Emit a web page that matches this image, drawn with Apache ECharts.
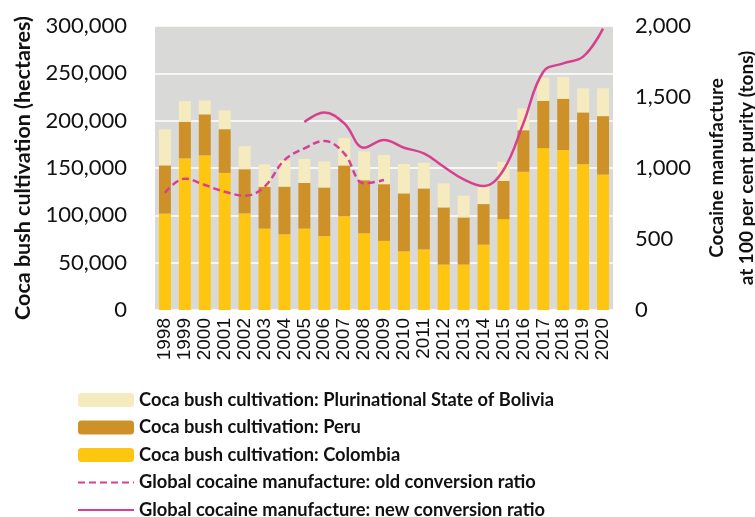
<!DOCTYPE html>
<html>
<head>
<meta charset="utf-8">
<script src="https://cdn.jsdelivr.net/npm/echarts@6/dist/echarts.min.js"></script>
<style>
  html, body { margin: 0; padding: 0; background: #fff; }
  #chart { width: 755px; height: 517px; }
</style>
</head>
<body>
<div id="chart"></div>
<script>
  // 年份
  var years = ['1998','1999','2000','2001','2002','2003','2004','2005','2006','2007','2008','2009',
               '2010','2011','2012','2013','2014','2015','2016','2017','2018','2019','2020'];

  // 种植面积 (hectares)
  var colombia = [101800, 160100, 163300, 144800, 102000, 86000, 80000, 86000, 78000, 99000, 81000, 73000,
                  62000, 64000, 48000, 48000, 69000, 96000, 146000, 171000, 169000, 154000, 143000];
  var peru = [51000, 38700, 43400, 46200, 46700, 44200, 50300, 48200, 51400, 53700, 56100, 59900,
              61200, 64400, 60400, 49800, 42900, 40300, 43900, 49900, 54100, 54700, 61800];
  var bolivia = [38000, 21800, 14600, 19900, 24400, 23600, 27700, 25400, 27500, 28900, 30500, 30900,
                 31000, 27200, 25300, 23000, 20400, 20200, 23100, 24500, 23100, 25500, 29400];

  // 可卡因产量 (tons)
  var oldRatio = [826, 925, 880, 833, 805, 868, 1056, 1138, 1190, 1103, 892, 915,
                  null, null, null, null, null, null, null, null, null, null, null];
  var newRatio = [null, null, null, null, null, null, null, 1324, 1390, 1315, 1143, 1197,
                  1143, 1103, 1009, 920, 873, 986, 1315, 1678, 1737, 1784, 1982];

  var leftTicks = [0, 300000, 50000];   // min, max, interval
  var rightTicks = [0, 2000, 500];

  var fmt = function (v) { return v.toLocaleString('en-US'); };
  var font = 'Lato, "Open Sans", sans-serif';
  var pink = '#d6408e';

  var myChart = echarts.init(document.getElementById('chart'));
  myChart.setOption({
    animation: false,
    grid: {
      left: 155, right: 142, top: 26, bottom: 207,
      outerBoundsMode: 'none',
      show: true, backgroundColor: '#d9dad7', borderWidth: 0
    },
    legend: {
      orient: 'vertical',
      left: 77, top: 391, height: 160, padding: 0,
      itemWidth: 56, itemHeight: 14, itemGap: 9.5,
      data: [
        'Coca bush cultivation: Plurinational State of Bolivia',
        'Coca bush cultivation: Peru',
        'Coca bush cultivation: Colombia',
        { name: 'Global cocaine manufacture: old conversion ratio', itemStyle: { opacity: 0 } },
        { name: 'Global cocaine manufacture: new conversion ratio', itemStyle: { opacity: 0 } }
      ],
      textStyle: { fontFamily: font, fontWeight: 'bold', fontSize: 18.3, color: '#111' }
    },
    xAxis: {
      type: 'category',
      data: years,
      axisLine: { show: false },
      axisTick: { show: false },
      axisLabel: {
        rotate: 90, margin: 8, interval: 0,
        fontFamily: '"Liberation Sans", Arial, sans-serif', fontSize: 19, color: '#111'
      }
    },
    yAxis: [{
      type: 'value',
      min: leftTicks[0], max: leftTicks[1], interval: leftTicks[2],
      name: 'Coca bush cultivation (hectares)',
      nameLocation: 'middle', nameRotate: 90, nameGap: 120,
      nameTextStyle: { fontFamily: font, fontWeight: 'bold', fontSize: 21.5, color: '#111' },
      axisLine: { show: false },
      axisTick: { show: false },
      axisLabel: { margin: 28, formatter: fmt, fontFamily: font, fontSize: 22, color: '#111' },
      splitLine: { lineStyle: { color: '#ffffff', width: 1.5 } }
    }, {
      type: 'value',
      min: rightTicks[0], max: rightTicks[1], interval: rightTicks[2],
      name: 'Cocaine manufacture\nat 100 per cent purity (tons)',
      nameLocation: 'middle', nameRotate: 90, nameGap: 85,
      nameTextStyle: { fontFamily: font, fontWeight: 'bold', fontSize: 19, color: '#111', lineHeight: 30 },
      axisLine: { show: false },
      axisTick: { show: false },
      axisLabel: { margin: 22, formatter: fmt, fontFamily: font, fontSize: 22, color: '#111' },
      splitLine: { show: false }
    }],
    series: [{
      name: 'Coca bush cultivation: Colombia',
      type: 'bar', stack: 'coca', barWidth: 12,
      itemStyle: { color: '#fec610' },
      data: colombia
    }, {
      name: 'Coca bush cultivation: Peru',
      type: 'bar', stack: 'coca',
      itemStyle: { color: '#ce9128' },
      data: peru
    }, {
      name: 'Coca bush cultivation: Plurinational State of Bolivia',
      type: 'bar', stack: 'coca',
      itemStyle: { color: '#f5ebbf' },
      data: bolivia
    }, {
      name: 'Global cocaine manufacture: old conversion ratio',
      type: 'line', yAxisIndex: 1, smooth: 0.4, symbol: 'none',
      lineStyle: { color: pink, width: 2.5, type: [7, 4] },
      itemStyle: { color: pink },
      data: oldRatio
    }, {
      name: 'Global cocaine manufacture: new conversion ratio',
      type: 'line', yAxisIndex: 1, smooth: 0.4, symbol: 'none',
      lineStyle: { color: pink, width: 2.5 },
      itemStyle: { color: pink },
      data: newRatio
    }]
  });
</script>
</body>
</html>
